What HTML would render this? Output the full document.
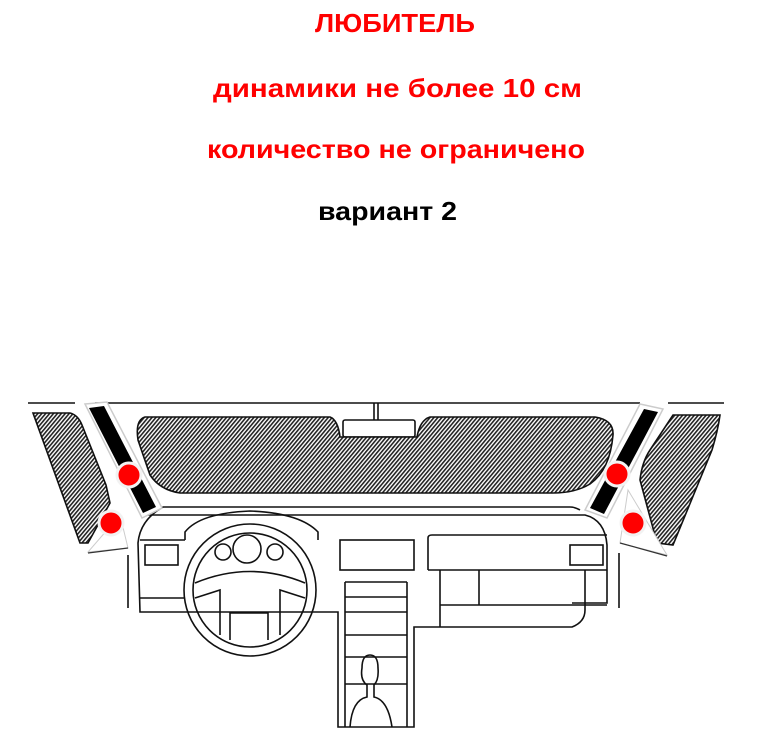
<!DOCTYPE html>
<html><head><meta charset="utf-8"><style>
html,body{margin:0;padding:0;background:#fff;}
svg{display:block;}
text{font-family:"Liberation Sans",sans-serif;font-weight:bold;}
</style></head><body>
<svg width="766" height="743" viewBox="0 0 766 743" xmlns="http://www.w3.org/2000/svg">
<defs>
<pattern id="h" width="3" height="3" patternUnits="userSpaceOnUse" patternTransform="rotate(40)">
<rect width="3" height="3" fill="#fff"/>
<rect width="1.6" height="3" fill="#222"/>
</pattern>
</defs>
<text x="315" y="32" font-size="26" fill="#f00" textLength="160" lengthAdjust="spacingAndGlyphs">ЛЮБИТЕЛЬ</text>
<text x="213" y="97" font-size="26" fill="#f00" textLength="369" lengthAdjust="spacingAndGlyphs">динамики не более 10 см</text>
<text x="207" y="158" font-size="26" fill="#f00" textLength="378" lengthAdjust="spacingAndGlyphs">количество не ограничено</text>
<text x="318" y="220" font-size="26" fill="#000" textLength="139" lengthAdjust="spacingAndGlyphs">вариант 2</text>

<g fill="none" stroke="#111" stroke-width="1.6">
<line x1="28" y1="403" x2="75" y2="403"/>
<line x1="95" y1="403" x2="640" y2="403"/>
<line x1="668" y1="403" x2="724" y2="403"/>
<line x1="374" y1="403" x2="374" y2="420"/>
<line x1="378" y1="403" x2="378" y2="420"/>
<rect x="343" y="420" width="72" height="17" rx="2"/>
<path d="M145 417 L330 417 Q338 420 340 437 L417 437 Q420 420 430 417 L595 417 Q614 420 613 435 Q610 470 590 484 Q575 493 553 493 L180 493 Q160 490 150 475 L138 440 Q135 420 145 417 Z" fill="url(#h)"/>
<path d="M33 413 L70 413 Q78 415 82 425 L106 485 L110 503 L88 543 L80 543 Z" fill="url(#h)"/>
<path d="M673 415 L720 415 Q718 430 712 450 L673 545 L657 543 L640 480 Q642 462 650 450 Z" fill="url(#h)"/>
<path d="M163 507 L570 507 Q575 507 580 510"/>
<path d="M145 515 L585 515 Q605 520 607 545 L607 603 L572 603"/>
<path d="M163 507 Q140 520 138 543 L140 612 L338 612 L338 727 L414 727 L414 627 L572 627 Q585 622 585 610 L585 570"/>
<line x1="128" y1="555" x2="128" y2="608"/>
<line x1="619" y1="553" x2="619" y2="608"/>
<line x1="140" y1="540" x2="185" y2="540"/>
<line x1="140" y1="598" x2="185" y2="598"/>
<rect x="145" y="545" width="33" height="20"/>
<path d="M185 540 L185 532 Q200 513 250 511 Q300 513 318 532 L318 540"/>
<circle cx="250" cy="590" r="66"/>
<circle cx="250" cy="590" r="57"/>
<circle cx="223" cy="552" r="8"/>
<circle cx="247" cy="549" r="14"/>
<circle cx="275" cy="552" r="8"/>
<path d="M195 583 Q250 560 305 583"/>
<path d="M195 598 L220 590 L220 635"/>
<path d="M305 598 L280 590 L280 635"/>
<path d="M230 640 L230 613 L268 613 L268 640"/>
<rect x="340" y="540" width="74" height="30"/>
<line x1="345" y1="582" x2="407" y2="582"/>
<line x1="345" y1="582" x2="345" y2="727"/>
<line x1="407" y1="582" x2="407" y2="727"/>
<line x1="345" y1="597" x2="407" y2="597"/>
<line x1="345" y1="612" x2="407" y2="612"/>
<line x1="345" y1="635" x2="407" y2="635"/>
<line x1="345" y1="657" x2="407" y2="657"/>
<line x1="345" y1="684" x2="407" y2="684"/>
<path d="M350 727 Q352 700 367 697 L367 685 Q360 680 362 668 Q362 655 370 655 Q378 655 378 668 Q379 680 374 685 L374 697 Q388 700 392 727"/>
<path d="M428 570 L428 538 Q428 535 432 535 L607 535"/>
<line x1="428" y1="570" x2="607" y2="570"/>
<rect x="570" y="545" width="33" height="20"/>
<line x1="440" y1="570" x2="440" y2="627"/>
<line x1="479" y1="570" x2="479" y2="605"/>
<line x1="440" y1="605" x2="607" y2="605"/>
</g>
<path d="M120 515 L128 548 L88 552 Z" fill="#fff" stroke="#ccc" stroke-width="1"/>
<line x1="88" y1="553" x2="128" y2="548" stroke="#333" stroke-width="1.2"/>
<path d="M628 490 L667 555 L620 543 Z" fill="#fff" stroke="#ccc" stroke-width="1"/>
<line x1="620" y1="543" x2="667" y2="556" stroke="#333" stroke-width="1.2"/>
<polygon points="85,404 107,402 162,508 142,518" fill="#fff" stroke="#ccc" stroke-width="1.5"/>
<polygon points="89,408 104,406 156,507 143,513" fill="#000"/>
<polygon points="640,404 663,409 607,518 585,510" fill="#fff" stroke="#ccc" stroke-width="1.5"/>
<polygon points="644,409 658,412 604,514 590,508" fill="#000"/>
<g stroke="#f2f2f2" stroke-width="3" fill="#f00">
<circle cx="129" cy="475" r="12"/>
<circle cx="111" cy="523" r="12"/>
<circle cx="617" cy="474" r="12"/>
<circle cx="633" cy="523" r="12"/>
</g>
</svg>
</body></html>
